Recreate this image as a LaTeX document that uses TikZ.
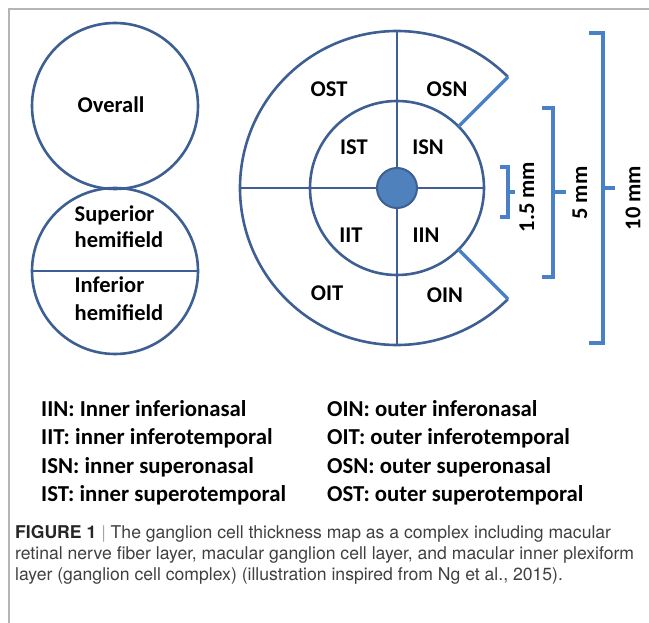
\documentclass[tikz,border=0pt]{standalone}
\usepackage{fontspec}
\setmainfont{Carlito}
\newfontfamily\capfont{TeX Gyre Heros}
\definecolor{ringblue}{HTML}{3D5F94}
\definecolor{barblue}{HTML}{4A80C8}
\definecolor{dotblue}{HTML}{4F81BD}
\definecolor{framegray}{HTML}{B4B4B4}
\tikzset{
  ring/.style={draw=ringblue, line width=2.6pt},
  bar/.style={draw=barblue, line width=3.2pt},
  lab/.style={font=\fontsize{22.5}{27}\selectfont\bfseries, inner sep=0pt},
  key/.style={font=\fontsize{22.8}{27}\selectfont\bfseries, inner sep=0pt, anchor=base west},
  captext/.style={font=\capfont\fontsize{17.6}{21}\selectfont, text=black!75, inner sep=0pt, anchor=base west}
}
\begin{document}
\begin{tikzpicture}[x=1pt,y=-1pt]
 \useasboundingbox (0,0) rectangle (649,623);
 \draw[framegray, line width=2pt] (9,623) -- (9,9) -- (649,9);

 \node[ring, circle, minimum size=166pt, inner sep=0pt] (overall) at (115,106) {};
 \node[ring, circle, minimum size=166pt, inner sep=0pt] (hemi) at (115,271) {};
 \draw[ring] (hemi.west) -- (hemi.east);
 \node[lab] (overalltxt) at (111,105) {Overall};
 \node[lab, anchor=base west] (sup1) at (74.5,222) {Superior};
 \node[lab, anchor=base west] (sup2) at (74.5,248) {hemifield};
 \node[lab, anchor=base west] (inf1) at (74.5,293) {Inferior};
 \node[lab, anchor=base west] (inf2) at (74.5,321) {hemifield};

 \coordinate (c) at (397,188);
 \coordinate (otop) at (397,32);
 \coordinate (obot) at (397,344);
 \coordinate (oleft) at (240,188);
 \coordinate (iright) at (484,188);
 \draw[ring] ([shift={(-45:157)}]c) arc[start angle=-45, end angle=-315, radius=157];
 \draw[ring] (c) circle[radius=87];
 \draw[ring] (otop) -- (obot);
 \draw[ring] (oleft) -- (iright);
 \draw[bar] ([shift={(-45:87)}]c) -- ([shift={(-45:157)}]c);
 \draw[bar] ([shift={(45:87)}]c) -- ([shift={(45:157)}]c);
 \node[circle, fill=dotblue, draw=ringblue, line width=2pt, minimum size=40pt, inner sep=0pt] (fovea) at (c) {};

 \node[lab, anchor=base] (ost) at (329,97) {OST};
 \node[lab, anchor=base] (osn) at (447,97) {OSN};
 \node[lab, anchor=base] (ist) at (354,155) {IST};
 \node[lab, anchor=base] (isn) at (428,155) {ISN};
 \node[lab, anchor=base] (iit) at (351,243) {IIT};
 \node[lab, anchor=base] (iin) at (426,243) {IIN};
 \node[lab, anchor=base] (oit) at (327,301) {OIT};
 \node[lab, anchor=base] (oin) at (445,302) {OIN};

 \draw[bar] (500,167) -- (508,167) -- (508,217) -- (500,217);
 \draw[bar] (508,192) -- (515,192);
 \draw[bar] (542,108) -- (553,108) -- (553,277) -- (542,277);
 \draw[bar] (553,192) -- (566,192);
 \draw[bar] (589,33) -- (603,33) -- (603,343) -- (589,343);
 \draw[bar] (603,188) -- (615,188);
 \node[lab, rotate=90] (mmsmall) at (527,197) {1.5 mm};
 \node[lab, rotate=90] (mmmid) at (580,193) {5 mm};
 \node[lab, rotate=90] (mmbig) at (633,198) {10 mm};

 \node[key] (k1) at (41,416) {IIN: Inner inferionasal};
 \node[key] (k2) at (41,444) {IIT: inner inferotemporal};
 \node[key] (k3) at (41,473) {ISN: inner superonasal};
 \node[key] (k4) at (41,501) {IST: inner superotemporal};
 \node[key] (k5) at (327,416) {OIN: outer inferonasal};
 \node[key] (k6) at (327,444) {OIT: outer inferotemporal};
 \node[key] (k7) at (327,473) {OSN: outer superonasal};
 \node[key] (k8) at (327,501) {OST: outer superotemporal};

 \node[captext] (capa) at (15,538) {{\bfseries\color{black!85}FIGURE 1} {\color{black!35}|} The ganglion cell thickness map as a complex including macular};
 \node[captext] (capb) at (15,559) {retinal nerve fiber layer, macular ganglion cell layer, and macular inner plexiform};
 \node[captext] (capc) at (15,580) {layer (ganglion cell complex) (illustration inspired from Ng et al., 2015).};
\end{tikzpicture}
\end{document}
